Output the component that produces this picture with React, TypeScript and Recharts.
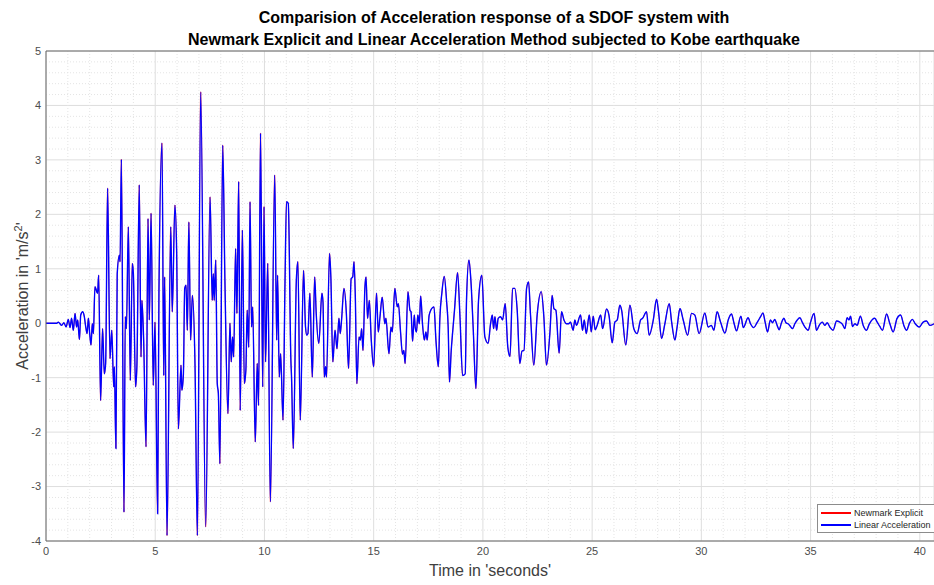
import React from 'react';
import { LineChart, Line, XAxis, YAxis, CartesianGrid, ReferenceLine } from 'recharts';

// time axis (s) and response acceleration (m/s^2), traced vertex by vertex
const timeSec = [
  0.0, 0.49, 0.56, 0.72, 0.82, 0.92, 1.02, 1.1, 1.17, 1.25, 1.33, 1.4, 1.45, 1.53, 1.59, 1.68, 1.75, 1.82, 1.88, 1.94,
  2.0, 2.06, 2.12, 2.17, 2.24, 2.36, 2.41, 2.5, 2.59, 2.67, 2.73, 2.82, 2.93, 3.01, 3.1, 3.13, 3.2, 3.26, 3.36, 3.39,
  3.45, 3.57, 3.63, 3.68, 3.77, 3.86, 3.95, 4.0, 4.1, 4.16, 4.27, 4.35, 4.39, 4.47, 4.58, 4.67, 4.73, 4.81, 4.91, 4.99,
  5.11, 5.17, 5.31, 5.39, 5.43, 5.54, 5.71, 5.78, 5.9, 5.98, 6.06, 6.18, 6.22, 6.29, 6.35, 6.41, 6.47, 6.54, 6.62, 6.7,
  6.82, 6.93, 7.08, 7.31, 7.51, 7.61, 7.66, 7.7, 7.77, 7.84, 7.89, 7.96, 8.09, 8.19, 8.33, 8.42, 8.48, 8.54, 8.59, 8.68,
  8.74, 8.82, 8.89, 8.99, 9.08, 9.15, 9.21, 9.28, 9.34, 9.41, 9.46, 9.58, 9.67, 9.73, 9.82, 9.92, 9.98, 10.05, 10.15, 10.27,
  10.47, 10.56, 10.6, 10.68, 10.74, 10.85, 10.94, 11.01, 11.09, 11.21, 11.24, 11.32, 11.46, 11.53, 11.64, 11.79, 11.88, 11.94, 11.99, 12.08,
  12.19, 12.3, 12.37, 12.49, 12.63, 12.68, 12.74, 12.8, 12.84, 12.98, 13.04, 13.13, 13.23, 13.32, 13.41, 13.47, 13.53, 13.64, 13.75, 13.85,
  13.97, 14.04, 14.1, 14.16, 14.23, 14.33, 14.39, 14.45, 14.51, 14.6, 14.65, 14.72, 14.8, 14.89, 15.0, 15.13, 15.21, 15.29, 15.39, 15.51,
  15.56, 15.7, 15.79, 15.85, 15.97, 16.08, 16.13, 16.23, 16.32, 16.38, 16.44, 16.57, 16.66, 16.71, 16.78, 16.86, 16.9, 16.96, 17.02, 17.09,
  17.15, 17.24, 17.32, 17.39, 17.45, 17.54, 17.7, 17.76, 17.85, 17.96, 18.03, 18.12, 18.23, 18.34, 18.41, 18.47, 18.55, 18.61, 18.7, 18.84,
  18.95, 19.07, 19.19, 19.25, 19.36, 19.45, 19.56, 19.68, 19.8, 19.95, 20.09, 20.24, 20.35, 20.43, 20.49, 20.55, 20.63, 20.7, 20.81, 20.9,
  21.02, 21.14, 21.24, 21.36, 21.46, 21.57, 21.69, 21.79, 21.88, 22.0, 22.09, 22.18, 22.33, 22.49, 22.67, 22.79, 22.91, 23.07, 23.17, 23.25,
  23.34, 23.49, 23.6, 23.71, 23.83, 23.92, 24.01, 24.13, 24.21, 24.28, 24.47, 24.56, 24.64, 24.73, 24.87, 24.96, 25.05, 25.14, 25.23, 25.39,
  25.48, 25.66, 25.77, 25.92, 26.04, 26.15, 26.27, 26.35, 26.54, 26.73, 26.91, 27.06, 27.22, 27.31, 27.49, 27.61, 27.8, 27.95, 28.04, 28.18,
  28.33, 28.53, 28.64, 28.79, 28.89, 29.02, 29.17, 29.37, 29.55, 29.7, 29.9, 30.16, 30.31, 30.46, 30.57, 30.72, 30.88, 31.08, 31.23, 31.38,
  31.49, 31.61, 31.81, 31.92, 32.14, 32.25, 32.4, 32.55, 32.71, 32.82, 32.92, 33.03, 33.16, 33.26, 33.36, 33.47, 33.56, 33.67, 33.78, 33.87,
  33.97, 34.08, 34.17, 34.28, 34.39, 34.51, 34.63, 34.74, 34.89, 35.0, 35.16, 35.27, 35.42, 35.54, 35.65, 35.76, 35.88, 36.03, 36.19, 36.34,
  36.46, 36.57, 36.67, 36.76, 36.83, 36.92, 37.03, 37.13, 37.28, 37.41, 37.56, 37.68, 37.83, 37.94, 38.05, 38.17, 38.29, 38.48, 38.63, 38.78,
  38.96, 39.12, 39.27, 39.39, 39.54, 39.66, 39.79, 39.98, 40.15, 40.31, 40.46, 40.65,
];

const accel = [
  0, 0, 0.02, -0.04, 0.01, -0.07, 0.07, -0.08, 0.09, -0.13, 0.18, -0.07, 0.06, -0.3, 0.15, 0.21, 0.13, -0.07, -0.19, 0.09,
  -0.19, -0.4, -0.01, -0.19, 0.67, 0.55, 0.88, -1.42, -0.1, -0.93, -0.74, 2.48, -0.65, -0.13, -1.17, -0.8, -2.3, 0.91, 1.25, 1.13,
  3.01, -3.47, 0.12, -0.1, 1.77, -1.05, 1.1, 0.91, -1.17, -0.8, 2.54, -0.62, 0.42, -0.31, -2.27, 1.92, 0.06, 2.02, -1.14, 0.02,
  -3.5, 0.55, 3.31, -0.96, 0.85, -3.9, 1.77, 0.21, 2.17, 1.34, -1.94, -0.77, -1.23, -0.93, 0.64, 0.7, -0.13, 1.86, -0.31, 0.51,
  -0.74, -3.9, 4.25, -3.74, 2.32, 0.42, 0.91, 0.42, 1.16, -1.11, -1.29, -2.58, 3.27, 0.79, -1.66, 0.0, -0.71, -0.25, -0.62, 1.37,
  0.18, 2.6, -1.6, 1.71, -1.11, -0.86, 0.24, -0.44, 2.23, -0.07, 0.3, -2.18, -0.74, -1.51, 3.49, -1.17, 2.14, -0.71, 1.1, -3.28,
  2.72, -0.31, 0.88, -0.99, -0.56, -1.78, 0.73, 2.23, 2.2, -0.68, -0.99, -2.3, 0.79, 1.13, -1.78, 0.97, -0.07, -0.22, -0.19, 0.55,
  -0.99, 0.85, 0.18, -0.37, 0.55, 0.39, -0.99, -0.8, -0.99, 1.28, 0.85, -0.71, -0.13, -0.47, 0.09, -0.19, 0.06, 0.64, 0.18, -0.83,
  0.82, 0.85, 1.13, 0.48, -1.11, -0.25, -0.31, -0.1, -0.5, 0.67, 0.85, 0.09, 0.42, -0.31, -0.8, 0.55, -0.16, 0.12, 0.48, -0.01,
  0.09, -0.56, -0.07, -0.16, 0.64, 0.3, 0.36, -0.16, -0.57, -0.5, -0.74, 0.58, 0.24, 0.21, -0.33, 0.15, -0.07, -0.16, 0.15, -0.01,
  0.5, -0.04, -0.31, -0.16, -0.31, 0.15, 0.29, 0.3, -0.31, -0.8, 0.09, 0.55, 0.86, 0.39, -0.07, -1.08, -0.5, -0.19, 0.24, 0.93,
  0.12, -0.96, -0.93, 0.42, 1.16, 0.79, -0.13, -1.2, 0.42, 0.88, -0.25, -0.37, -0.01, 0.15, -0.1, 0.12, -0.13, 0.09, 0.12, 0.06,
  0.36, -0.44, -0.61, 0.64, 0.64, 0.24, -0.74, -0.51, -0.5, 0.64, 0.76, 0.15, -0.77, 0.18, 0.58, 0.12, -0.77, -0.16, 0.51, 0.27,
  0.24, -0.55, 0.21, 0.06, -0.01, -0.01, 0.02, -0.13, 0.06, -0.04, 0.15, -0.13, 0.06, -0.19, 0.15, -0.16, 0.13, -0.12, -0.04, 0.15,
  -0.1, 0.26, 0.15, -0.36, 0.02, 0.06, 0.33, 0.24, -0.4, 0.33, -0.1, -0.19, 0.06, 0.09, 0.21, -0.22, 0.06, 0.44, 0.21, -0.28,
  -0.01, 0.36, 0.02, -0.31, -0.07, 0.27, 0.06, -0.22, 0.18, 0.15, -0.19, 0.19, -0.07, -0.04, -0.13, 0.21, 0.02, -0.18, 0.06, 0.17,
  0.01, -0.14, 0.13, -0.08, 0.1, -0.01, -0.08, 0.01, 0.12, 0.19, 0.02, -0.16, 0.06, 0.01, 0.07, -0.04, -0.12, 0.01, 0.09, 0.01,
  -0.01, -0.06, -0.1, -0.01, 0.06, 0.1, 0.01, -0.07, -0.13, 0.02, 0.18, -0.13, -0.02, 0.02, -0.04, 0.01, -0.07, -0.13, 0.04, 0.02,
  -0.02, -0.1, 0.1, 0.06, 0.13, -0.06, -0.01, -0.04, 0.13, -0.04, -0.13, -0.02, 0.07, 0.09, 0.02, -0.06, -0.13, 0.17, -0.01, -0.16,
  0.09, 0.15, -0.04, -0.13, 0.01, 0.07, -0.01, -0.07, 0.02, 0.04, -0.04, -0.01,
];

const xTicks = [0, 5, 10, 15, 20, 25, 30, 35, 40];
const yTicks = [-4, -3, -2, -1, 0, 1, 2, 3, 4, 5];

const series = [
  { key: 'newmark', name: 'Newmark Explicit', color: '#ff0000', width: 0.6 },
  { key: 'linear', name: 'Linear Acceleration', color: '#0000ff', width: 1.4 },
];

// both schemes give the same response here, the blue trace sits on top of the red one
const rows = timeSec.map((t, i) => ({ t, newmark: accel[i], linear: accel[i] }));

// minor grid: every 1 s and every 0.2 m/s^2
const minorX: number[] = [];
for (let s = 1; s <= 40; s++) if (s % 5 !== 0) minorX.push(s);
const minorY: number[] = [];
for (let k = -19; k <= 24; k++) if (k % 5 !== 0) minorY.push(k / 5);

const font = '"Liberation Sans", Arial, sans-serif';
const tickStyle = { fontSize: 11, fill: '#4d4d4d', fontFamily: font };

export default function App() {
  return (
    <div style={{ position: 'absolute', left: 0, top: 0, width: 934, height: 585, background: '#fff', fontFamily: font }}>
      <LineChart width={934} height={585} data={rows} margin={{ top: 51, right: 0, bottom: 0, left: 0 }}>
        <CartesianGrid stroke="#dedede" strokeWidth={1} />
        {minorX.map(v => (
          <ReferenceLine key={'mx' + v} x={v} stroke="#e4e4e4" strokeDasharray="1 2" />
        ))}
        {minorY.map(v => (
          <ReferenceLine key={'my' + v} y={v} stroke="#e4e4e4" strokeDasharray="1 2" />
        ))}
        <ReferenceLine y={5} stroke="#666" />
        <XAxis
          dataKey="t"
          type="number"
          domain={[0, 40.65]}
          ticks={xTicks}
          allowDataOverflow
          height={44}
          stroke="#666"
          tickLine={false}
          tickSize={0}
          tickMargin={6}
          tick={tickStyle}
        />
        <YAxis
          type="number"
          domain={[-4, 5]}
          ticks={yTicks}
          width={46}
          stroke="#666"
          tickLine={false}
          tickSize={0}
          tickMargin={5}
          tick={tickStyle}
        />
        {series.map(s => (
          <Line
            key={s.key}
            type="monotone"
            dataKey={s.key}
            name={s.name}
            stroke={s.color}
            strokeWidth={s.width}
            dot={false}
            isAnimationActive={false}
          />
        ))}
      </LineChart>

      <div style={{ position: 'absolute', left: 46, width: 896, top: 7, textAlign: 'center', fontWeight: 'bold', fontSize: 16, lineHeight: '22px', color: '#000' }}>
        <div>Comparision of Acceleration response of a SDOF system with</div>
        <div>Newmark Explicit and Linear Acceleration Method subjected to Kobe earthquake</div>
      </div>

      <div style={{ position: 'absolute', left: 46, width: 888, top: 562, textAlign: 'center', fontSize: 16, color: '#404040' }}>
        Time in 'seconds'
      </div>

      <div style={{ position: 'absolute', left: 22, top: 296, transform: 'translate(-50%, -50%) rotate(-90deg)', whiteSpace: 'nowrap', fontSize: 16, color: '#404040' }}>
        Acceleration in 'm/s<sup style={{ fontSize: 11 }}>2</sup>'
      </div>

      <div style={{ position: 'absolute', left: 817, top: 504, width: 117, height: 29, boxSizing: 'border-box', border: '1px solid #8c8c8c', borderRight: 'none', background: '#fff', fontSize: 9, color: '#262626', whiteSpace: 'nowrap' }}>
        {series.map((s, i) => (
          <div key={s.key} style={{ position: 'absolute', left: 3, top: 2 + i * 12, height: 12, display: 'flex', alignItems: 'center' }}>
            <span style={{ display: 'inline-block', width: 30, height: 1.3, background: s.color, marginRight: 3 }} />
            <span>{s.name}</span>
          </div>
        ))}
      </div>
    </div>
  );
}
